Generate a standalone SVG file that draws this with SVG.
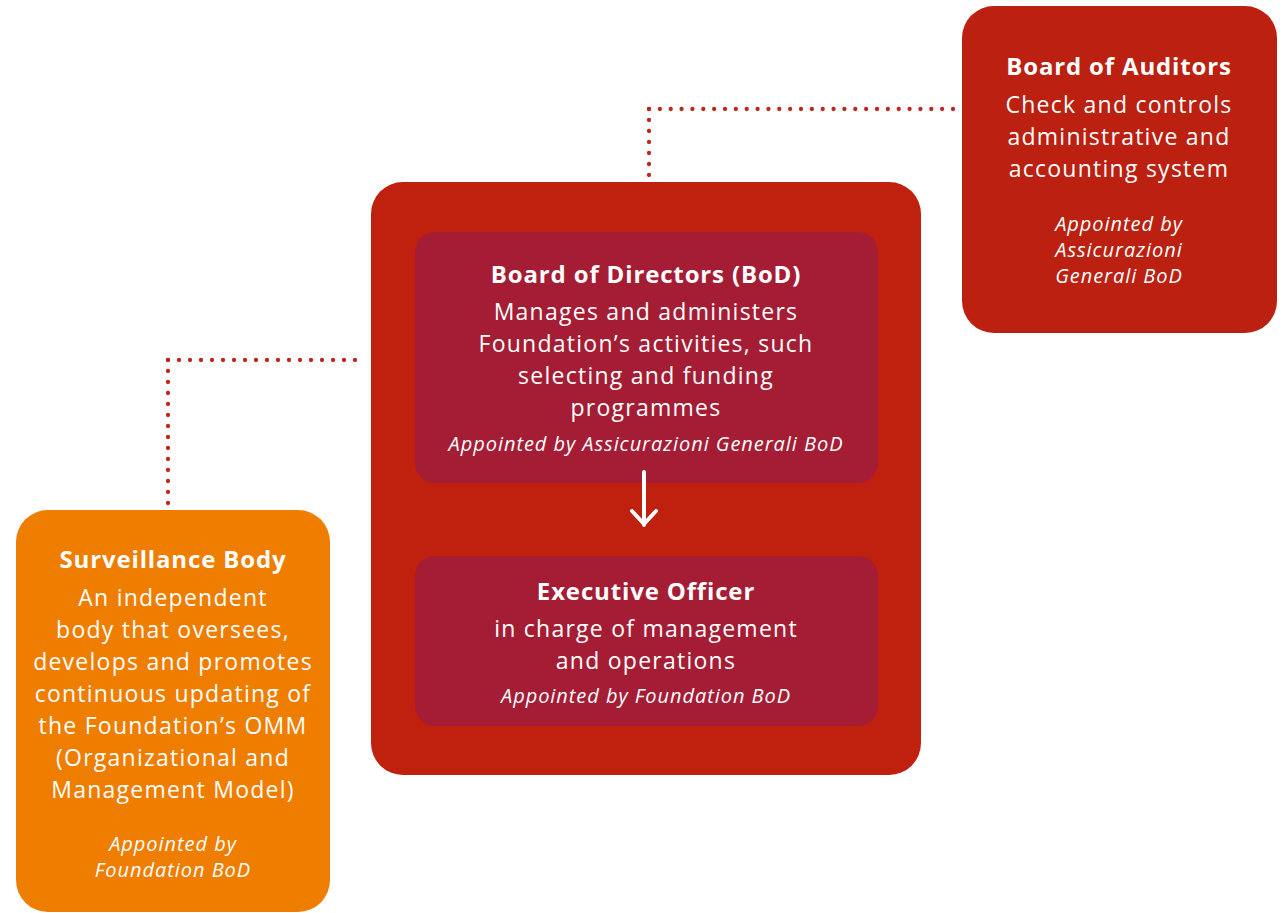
<svg xmlns="http://www.w3.org/2000/svg" width="1283" height="913" viewBox="0 0 1283 913">
<style>
text{font-family:"Open Sans","Noto Sans","Liberation Sans",sans-serif;fill:#fff;text-anchor:middle}
.t{font-size:24px;font-weight:700;letter-spacing:0.85px}
.b{font-size:23px;letter-spacing:1.25px}
.i{font-size:20px;font-style:italic;letter-spacing:0.95px}
.dot{fill:none;stroke:#C0261A;stroke-width:4.3;stroke-linecap:round;stroke-dasharray:0 11}
</style>
<rect width="1283" height="913" fill="#fff"/>
<g id="connectors">
<path class="dot" d="M649 109 H953.5" style="stroke-dasharray:0 10.857"/>
<path class="dot" d="M649 109 V175.5"/>
<path class="dot" d="M168 360 H357.5"/>
<path class="dot" d="M168 360 V503.5"/>
</g>
<g id="main">
<rect x="371" y="182" width="550" height="593" rx="32" fill="#C0200E"/>
</g>
<g id="bod">
<rect x="415" y="232" width="463" height="251" rx="20" fill="#A51D35"/>
<text class="t" x="646" y="283">Board of Directors (BoD)</text>
<text class="b" x="646" y="320">Manages and administers</text>
<text class="b" x="646" y="352">Foundation’s activities, such</text>
<text class="b" x="646" y="384">selecting and funding</text>
<text class="b" x="646" y="416">programmes</text>
<text class="i" x="646" y="451">Appointed by Assicurazioni Generali BoD</text>
</g>
<g id="arrow">
<path d="M644 472 V525 M632 511 L644 524 L656 511" fill="none" stroke="#fff" stroke-width="4" stroke-linecap="round" stroke-linejoin="round"/>
</g>
<g id="eo">
<rect x="415" y="556" width="463" height="170" rx="20" fill="#A51D35"/>
<text class="t" x="646" y="600">Executive Officer</text>
<text class="b" x="646" y="637">in charge of management</text>
<text class="b" x="646" y="669">and operations</text>
<text class="i" x="646" y="703">Appointed by Foundation BoD</text>
</g>
<g id="auditors">
<rect x="962" y="6" width="315" height="327" rx="32" fill="#BB2010"/>
<text class="t" x="1119" y="75">Board of Auditors</text>
<text class="b" x="1119" y="113">Check and controls</text>
<text class="b" x="1119" y="145">administrative and</text>
<text class="b" x="1119" y="177">accounting system</text>
<text class="i" x="1119" y="231">Appointed by</text>
<text class="i" x="1119" y="257">Assicurazioni</text>
<text class="i" x="1119" y="283">Generali BoD</text>
</g>
<g id="surveillance">
<rect x="16" y="510" width="314" height="402" rx="32" fill="#EF7D00"/>
<text class="t" x="173" y="568">Surveillance Body</text>
<text class="b" x="173" y="606">An independent</text>
<text class="b" x="173" y="638">body that oversees,</text>
<text class="b" x="173" y="670">develops and promotes</text>
<text class="b" x="173" y="702">continuous updating of</text>
<text class="b" x="173" y="734">the Foundation’s OMM</text>
<text class="b" x="173" y="766">(Organizational and</text>
<text class="b" x="173" y="798">Management Model)</text>
<text class="i" x="173" y="851">Appointed by</text>
<text class="i" x="173" y="877">Foundation BoD</text>
</g>
</svg>
